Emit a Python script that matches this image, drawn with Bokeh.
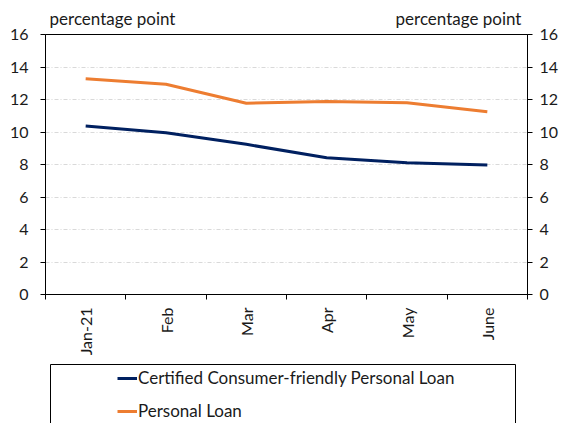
import math
from bokeh.plotting import figure
from bokeh.layouts import column
from bokeh.models import (LinearAxis, FixedTicker, Range1d, Legend, LegendItem,
                          BoxAnnotation)
from bokeh.embed import file_html
from bokeh.resources import INLINE

months = ["Jan-21", "Feb", "Mar", "Apr", "May", "June"]
certified = [10.37, 9.96, 9.24, 8.42, 8.11, 7.97]
personal = [13.28, 12.94, 11.77, 11.87, 11.80, 11.25]
y_ticks = [0, 2, 4, 6, 8, 10, 12, 14, 16]
unit_text = "percentage point"
series_names = ["Certified Consumer-friendly Personal Loan", "Personal Loan"]
series_colors = ["#002060", "#ED7D31"]

FONT = "Lato"
FS = "16px"
FS_TEXT = "17px"
TXT = "#1a1a1a"
FRAME_W = 482

x_pos = [i + 0.5 for i in range(len(months))]

p = figure(width=564, height=362, output_backend="svg", toolbar_location=None,
           x_range=Range1d(0, len(months)), y_range=Range1d(0, 16),
           frame_width=FRAME_W, frame_height=260,
           min_border_left=45, min_border_right=37, min_border_top=34,
           min_border_bottom=68)
p.extra_x_ranges = {"px": Range1d(0, FRAME_W)}
p.background_fill_color = "white"
p.border_fill_color = "white"
p.outline_line_color = "#000000"
p.outline_line_width = 1

r1 = p.line(x_pos, certified, line_color=series_colors[0], line_width=3)
r2 = p.line(x_pos, personal, line_color=series_colors[1], line_width=3)

# x axis: labels at centers, ticks at boundaries
xa = p.xaxis[0]
xa.ticker = FixedTicker(ticks=x_pos, minor_ticks=list(range(len(months) + 1)))
xa.major_label_overrides = {x: m for x, m in zip(x_pos, months)}
xa.major_tick_out = 0
xa.major_tick_in = 0
xa.minor_tick_out = 5
xa.minor_tick_in = 0
xa.major_label_orientation = math.pi / 2
xa.major_label_standoff = 8
xa.major_label_text_font = FONT
xa.major_label_text_font_size = FS
xa.major_label_text_color = TXT
xa.axis_line_color = "#000000"
xa.minor_tick_line_color = "#000000"

ya = p.yaxis[0]
ya.ticker = FixedTicker(ticks=y_ticks, minor_ticks=[])
ya.major_tick_out = 5
ya.major_tick_in = 0
ya.major_label_standoff = 12
ya.major_label_text_font = FONT
ya.major_label_text_font_size = FS
ya.major_label_text_color = TXT
ya.axis_line_color = "#000000"
ya.major_tick_line_color = "#000000"

yr = LinearAxis(ticker=FixedTicker(ticks=y_ticks, minor_ticks=[]))
yr.major_tick_out = 5
yr.major_tick_in = 0
yr.major_label_standoff = 7
yr.major_label_text_font = FONT
yr.major_label_text_font_size = FS
yr.major_label_text_color = TXT
yr.axis_line_color = "#000000"
yr.major_tick_line_color = "#000000"
p.add_layout(yr, "right")

# unit labels above the frame (left and right)
unit_pos = [67, 413]
top = LinearAxis(x_range_name="px", ticker=FixedTicker(ticks=unit_pos, minor_ticks=[]))
top.major_label_overrides = {u: unit_text for u in unit_pos}
top.major_tick_out = 0
top.major_tick_in = 0
top.axis_line_color = None
top.major_tick_line_color = None
top.major_label_standoff = 6
top.major_label_text_font = FONT
top.major_label_text_font_size = FS_TEXT
top.major_label_text_color = TXT
p.add_layout(top, "above")

p.xgrid.grid_line_color = None
p.ygrid.ticker = FixedTicker(ticks=y_ticks)
p.ygrid.grid_line_color = "#d9d9d9"
p.ygrid.grid_line_dash = "4 2 1 2"
p.ygrid.grid_line_width = 1

# legend panel (its frame is aligned with the chart frame by the column layout)
q = figure(width=564, height=61, output_backend="svg", toolbar_location=None,
           x_axis_type=None, y_axis_type=None,
           min_border_left=45, min_border_right=37, min_border_top=0,
           min_border_bottom=0, x_range=Range1d(0, len(months)), y_range=Range1d(0, 1))
q.outline_line_color = None
q.background_fill_color = "white"
q.border_fill_color = "white"
q.add_layout(BoxAnnotation(left=5, right=470, top=59, bottom=-30,
                           left_units="screen", right_units="screen",
                           top_units="screen", bottom_units="screen",
                           fill_alpha=0, line_alpha=1, line_color="#000000",
                           line_width=1))
# legend proxies: same series, outside this panel's visible range
l1 = q.line(x_pos, certified, line_color=series_colors[0], line_width=3)
l2 = q.line(x_pos, personal, line_color=series_colors[1], line_width=3)
legend = Legend(items=[LegendItem(label=series_names[0], renderers=[l1]),
                       LegendItem(label=series_names[1], renderers=[l2])],
                location=(72, 2), orientation="vertical",
                padding=0, spacing=12, glyph_width=20, glyph_height=20,
                label_height=20, label_standoff=1, margin=0,
                label_text_font=FONT, label_text_font_size=FS_TEXT,
                label_text_color=TXT, border_line_alpha=0,
                background_fill_alpha=0)
q.add_layout(legend, "center")

layout = column(p, q, spacing=0)
open("out.html", "w").write(file_html(layout, INLINE))
